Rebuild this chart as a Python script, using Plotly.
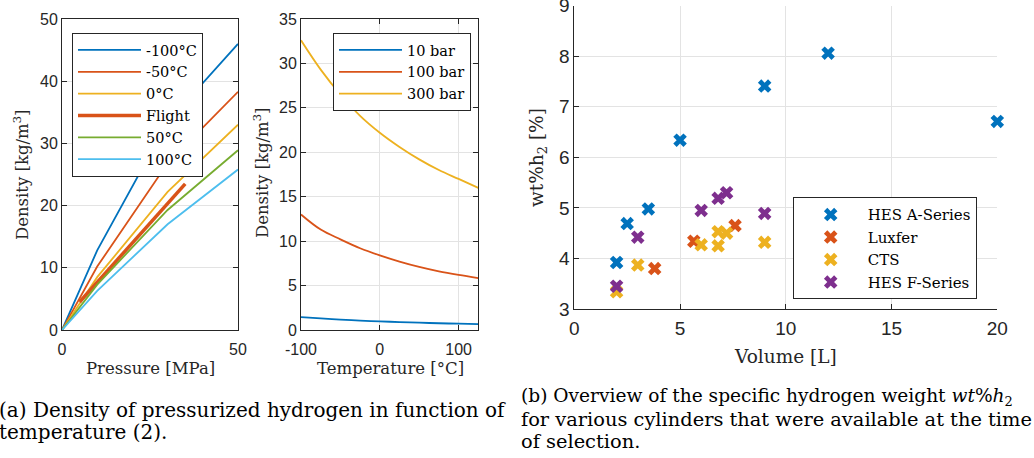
import plotly.graph_objects as go

W, H = 1034, 458

# ---- data: (a) left, density vs pressure ----
pressure = [0, 10, 30, 50]
dens_m100 = [0, 12.8, 33.4, 46.0]
dens_m50 = [0, 10.2, 26.8, 38.3]
dens_0 = [0, 8.5, 22.2, 33.0]
dens_50 = [0, 7.3, 19.3, 28.9]
dens_100 = [0, 6.3, 17.0, 25.8]
flight_pressure = [5, 10, 30, 35]
flight_density = [4.5, 7.7, 20.5, 23.5]

# ---- data: (a) right, density vs temperature ----
temperature = [-100, -75, -50, -25, 0, 25, 50, 75, 100, 125]
dens_10bar = [1.45, 1.30, 1.17, 1.06, 0.97, 0.89, 0.82, 0.76, 0.71, 0.66]
dens_100bar = [13.0, 11.3, 10.2, 9.2, 8.4, 7.7, 7.1, 6.6, 6.2, 5.85]
dens_300bar = [32.6, 29.3, 26.5, 24.1, 22.2, 20.6, 19.2, 18.0, 17.0, 16.0]

# ---- data: (b) wt% h2 vs volume ----
hes_a_vol = [2, 2.5, 3.5, 5, 9, 12, 20]
hes_a_wt = [3.92, 4.69, 4.98, 6.34, 7.41, 8.06, 6.71]
luxfer_vol = [3.8, 5.65, 7.6]
luxfer_wt = [3.80, 4.34, 4.65]
cts_vol = [2, 3, 6, 6.8, 6.8, 7.2, 9]
cts_wt = [3.34, 3.87, 4.27, 4.25, 4.53, 4.50, 4.32]
hes_f_vol = [2, 3, 6, 6.8, 7.2, 9]
hes_f_wt = [3.45, 4.42, 4.95, 5.19, 5.30, 4.89]

# tick labels
left_x_ticks = [0, 50]
left_y_ticks = [0, 10, 20, 30, 40, 50]
mid_x_ticks = [-100, 0, 100]
mid_x_labels = ["-100", "0", "100"]
mid_y_ticks = [0, 5, 10, 15, 20, 25, 30, 35]
right_x_ticks = [0, 5, 10, 15, 20]
right_y_ticks = [3, 4, 5, 6, 7, 8, 9]

BLUE, ORANGE, YELLOW = "#0072BD", "#D95319", "#EDB120"
PURPLE, GREEN, LBLUE = "#7E2F8E", "#77AC30", "#4DBEEE"
AX = "#262626"
GRID = "#e3e3e3"
SERIF = "DejaVu Serif"
SANS = "Liberation Sans"


def px_x(a, b):
    return [a / W, b / W]


def px_y(top, bottom):
    return [1 - bottom / H, 1 - top / H]


fig = go.Figure()

# left plot
for name, y, c in [("-100°C", dens_m100, BLUE), ("-50°C", dens_m50, ORANGE), ("0°C", dens_0, YELLOW)]:
    fig.add_trace(go.Scatter(x=pressure, y=y, mode="lines", name=name,
                             line=dict(color=c, width=1.8), xaxis="x", yaxis="y", legend="legend"))
fig.add_trace(go.Scatter(x=flight_pressure, y=flight_density, mode="lines", name="Flight",
                         line=dict(color=ORANGE, width=3.5), xaxis="x", yaxis="y", legend="legend"))
for name, y, c in [("50°C", dens_50, GREEN), ("100°C", dens_100, LBLUE)]:
    fig.add_trace(go.Scatter(x=pressure, y=y, mode="lines", name=name,
                             line=dict(color=c, width=1.8), xaxis="x", yaxis="y", legend="legend"))

# middle plot
for name, y, c in [("10 bar", dens_10bar, BLUE), ("100 bar", dens_100bar, ORANGE),
                   ("300 bar", dens_300bar, YELLOW)]:
    fig.add_trace(go.Scatter(x=temperature, y=y, mode="lines", name=name, line_shape="spline",
                             line=dict(color=c, width=1.8), xaxis="x2", yaxis="y2", legend="legend2"))

# right plot
for name, xs, ys, c in [("HES A-Series", hes_a_vol, hes_a_wt, BLUE),
                        ("Luxfer", luxfer_vol, luxfer_wt, ORANGE),
                        ("CTS", cts_vol, cts_wt, YELLOW),
                        ("HES F-Series", hes_f_vol, hes_f_wt, PURPLE)]:
    fig.add_trace(go.Scatter(x=xs, y=ys, mode="markers", name=name, cliponaxis=False,
                             marker=dict(symbol="x", size=12, color=c, line=dict(width=0)),
                             xaxis="x3", yaxis="y3", legend="legend3"))


def axis(domain, rng, tickvals, size, anchor, mirror=True, ticktext=None, standoff=0):
    d = dict(domain=domain, range=rng, tickvals=tickvals, showgrid=True, gridcolor=GRID,
             gridwidth=1, zeroline=False, showline=True, linecolor=AX, linewidth=1,
             mirror="ticks" if mirror else False, ticks="inside", ticklen=5, tickcolor=AX,
             tickfont=dict(family=SANS, size=size, color=AX), fixedrange=True,
             automargin=False, anchor=anchor, ticklabeloverflow="allow",
             ticklabelstandoff=standoff)
    if ticktext is not None:
        d["ticktext"] = ticktext
    return d


legend_common = dict(bgcolor="white", bordercolor=AX, borderwidth=1, xanchor="left",
                     yanchor="top", tracegroupgap=0)

fig.update_layout(
    width=W, height=H, margin=dict(l=0, r=0, t=0, b=0, autoexpand=False),
    paper_bgcolor="white", plot_bgcolor="white",
    xaxis=axis(px_x(62, 238), [0, 50], left_x_ticks, 16, "y", standoff=5),
    yaxis=axis(px_y(19, 330), [0, 50], left_y_ticks, 16, "x"),
    xaxis2=axis(px_x(301, 478.3), [-100, 125], mid_x_ticks, 16, "y2", ticktext=mid_x_labels,
                standoff=5),
    yaxis2=axis(px_y(19, 330), [0, 35], mid_y_ticks, 16, "x2"),
    xaxis3=axis(px_x(574.3, 997.3), [0, 20], right_x_ticks, 19, "y3", mirror=False, standoff=2),
    yaxis3=axis(px_y(5.7, 309), [3, 9], right_y_ticks, 19, "x3", mirror=False),
    legend=dict(x=72 / W, y=1 - 33 / H, itemwidth=63,
                font=dict(family=SERIF, size=14.5, color="black"), **legend_common),
    legend2=dict(x=333 / W, y=1 - 33 / H, itemwidth=63,
                 font=dict(family=SERIF, size=14.5, color="black"), **legend_common),
    legend3=dict(x=792.7 / W, y=1 - 197.3 / H, itemwidth=64,
                 font=dict(family=SERIF, size=15, color="black"), **legend_common),
    showlegend=True,
)


def ann(text, x, y, size, angle=0, xanchor="center", color=AX):
    fig.add_annotation(text=text, x=x / W, y=1 - y / H, xref="paper", yref="paper",
                       showarrow=False, textangle=angle, xanchor=xanchor, yanchor="middle",
                       font=dict(family=SERIF, size=size, color=color))


ann("Pressure [MPa]", 150, 368, 16.5)
ann("Temperature [°C]", 390, 368, 16.5)
ann("Density [kg/m<sup>3</sup>]", 21, 175, 16.5, angle=-90)
ann("Density [kg/m<sup>3</sup>]", 261, 173, 16.5, angle=-90)
ann("Volume [L]", 785, 356, 18.5)
ann("wt%h<sub>2</sub> [%]", 538, 158, 18.5, angle=-90)

ann("(a) Density of pressurized hydrogen in function of", -3, 410, 20, xanchor="left", color="black")
ann("temperature (2).", -3, 432, 20, xanchor="left", color="black")
ann("(b) Overview of the specific hydrogen weight <i>wt</i>%<i>h</i><sub>2</sub>", 519, 397, 18.6,
    xanchor="left", color="black")
ann("for various cylinders that were available at the time", 519, 419, 19.4, xanchor="left",
    color="black")
ann("of selection.", 519, 441, 19.4, xanchor="left", color="black")

fig.write_html("out.html", config=dict(displayModeBar=False))
